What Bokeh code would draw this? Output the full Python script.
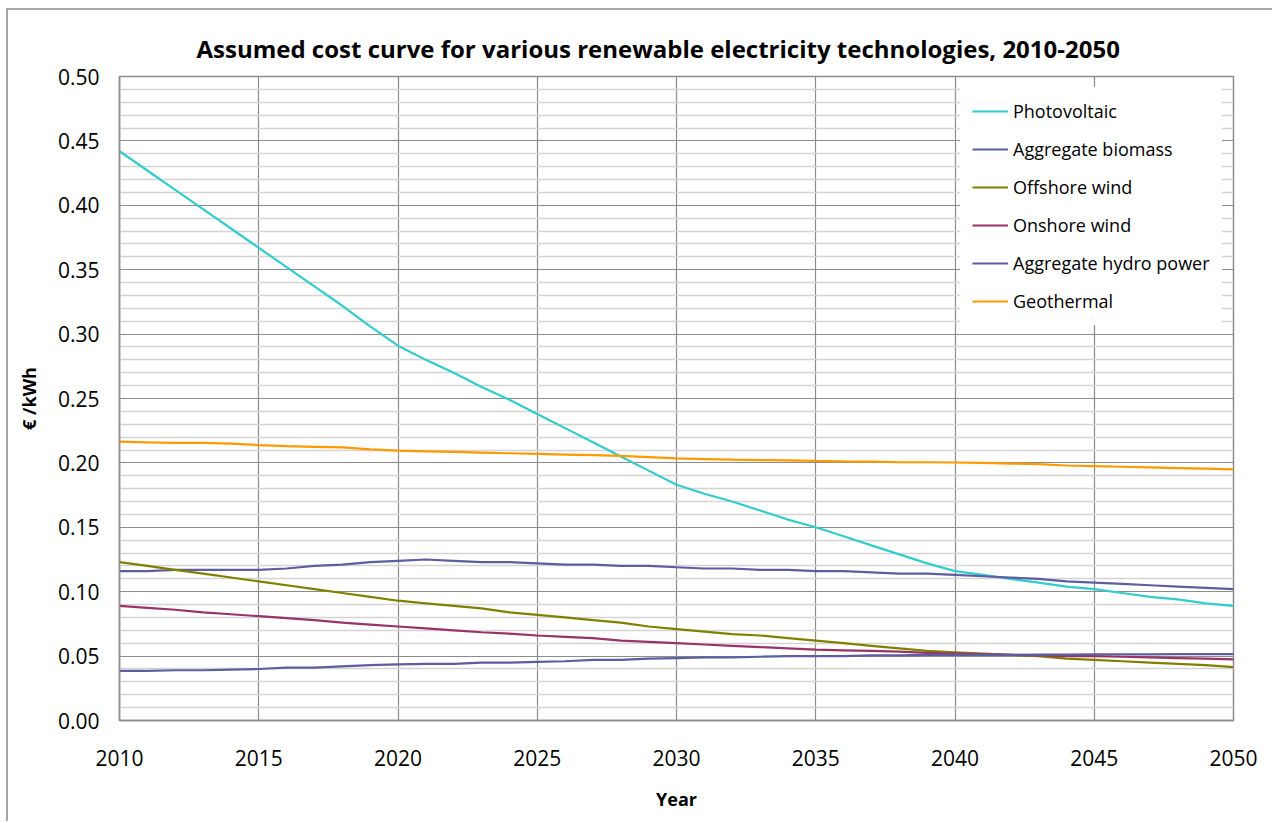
from bokeh.plotting import figure
from bokeh.models import FixedTicker, NumeralTickFormatter, Legend, LegendItem, Range1d
from bokeh.embed import file_html
from bokeh.resources import INLINE

years = list(range(2010, 2051))

photovoltaic = [0.442, 0.427, 0.412, 0.397, 0.382, 0.367, 0.352, 0.337, 0.322, 0.306,
                0.291, 0.280, 0.270, 0.259, 0.249, 0.238, 0.227, 0.216, 0.205, 0.194,
                0.183, 0.176, 0.170, 0.163, 0.156, 0.150, 0.143, 0.136, 0.129, 0.122,
                0.116, 0.113, 0.110, 0.107, 0.104, 0.102, 0.099, 0.096, 0.094, 0.091,
                0.089]
aggregate_biomass = [0.116, 0.116, 0.117, 0.117, 0.117, 0.117, 0.118, 0.120, 0.121, 0.123,
                     0.124, 0.125, 0.124, 0.123, 0.123, 0.122, 0.121, 0.121, 0.120, 0.120,
                     0.119, 0.118, 0.118, 0.117, 0.117, 0.116, 0.116, 0.115, 0.114, 0.114,
                     0.113, 0.112, 0.111, 0.110, 0.108, 0.107, 0.106, 0.105, 0.104, 0.103,
                     0.102]
offshore_wind = [0.123, 0.120, 0.117, 0.114, 0.111, 0.108, 0.105, 0.102, 0.099, 0.096,
                 0.093, 0.091, 0.089, 0.087, 0.084, 0.082, 0.080, 0.078, 0.076, 0.073,
                 0.071, 0.069, 0.067, 0.066, 0.064, 0.062, 0.060, 0.058, 0.056, 0.054,
                 0.053, 0.052, 0.051, 0.050, 0.048, 0.047, 0.046, 0.045, 0.044, 0.043,
                 0.0415]
onshore_wind = [0.089, 0.0875, 0.086, 0.084, 0.0825, 0.081, 0.0795, 0.078, 0.076, 0.0745,
                0.073, 0.0715, 0.070, 0.0685, 0.0675, 0.066, 0.065, 0.064, 0.062, 0.061,
                0.060, 0.059, 0.058, 0.057, 0.056, 0.055, 0.0545, 0.054, 0.0535, 0.0525,
                0.052, 0.0515, 0.051, 0.0505, 0.050, 0.050, 0.0495, 0.049, 0.0485, 0.048,
                0.0475]
aggregate_hydro = [0.0385, 0.0385, 0.039, 0.039, 0.0395, 0.040, 0.041, 0.041, 0.042, 0.043,
                   0.0435, 0.044, 0.044, 0.045, 0.045, 0.0455, 0.046, 0.047, 0.047, 0.048,
                   0.0485, 0.049, 0.049, 0.0495, 0.050, 0.050, 0.050, 0.0505, 0.0505, 0.051,
                   0.051, 0.051, 0.051, 0.0512, 0.0512, 0.0513, 0.0514, 0.0514, 0.0515, 0.0515,
                   0.0516]
geothermal = [0.2165, 0.216, 0.2155, 0.2155, 0.215, 0.2138, 0.213, 0.2125, 0.212, 0.2105,
              0.2095, 0.209, 0.2085, 0.208, 0.2075, 0.207, 0.2065, 0.206, 0.2055, 0.2045,
              0.2035, 0.203, 0.2025, 0.2022, 0.202, 0.2015, 0.2012, 0.201, 0.2005, 0.2005,
              0.2003, 0.200, 0.1995, 0.199, 0.198, 0.1975, 0.197, 0.1965, 0.196, 0.1955,
              0.195]

series_names = ["Photovoltaic", "Aggregate biomass", "Offshore wind", "Onshore wind",
                "Aggregate hydro power", "Geothermal"]
series_values = [photovoltaic, aggregate_biomass, offshore_wind, onshore_wind,
                 aggregate_hydro, geothermal]
series_colors = ["#33CCCC", "#5d5d9f", "#808000", "#993366", "#5d5d9f", "#FF9900"]

x_ticks = [2010, 2015, 2020, 2025, 2030, 2035, 2040, 2045, 2050]
y_ticks = [0.0, 0.05, 0.10, 0.15, 0.20, 0.25, 0.30, 0.35, 0.40, 0.45, 0.50]
y_minor = [i / 100 for i in range(51) if i % 5 != 0]

FONT = "Open Sans"

p = figure(width=1266, height=813, output_backend="svg", toolbar_location=None,
           x_range=Range1d(2010, 2050), y_range=Range1d(0, 0.5),
           min_border_left=111, min_border_right=41, min_border_top=66, min_border_bottom=103,
           title="Assumed cost curve for various renewable electricity technologies, 2010-2050")
p.styles = {"margin-left": "6px", "margin-top": "8px",
            "border-left": "2px solid #a6a6a6", "border-top": "2px solid #a6a6a6"}

p.title.text_font = FONT
p.title.text_font_size = "24px"
p.title.text_font_style = "bold"
p.title.text_color = "#000000"
p.title.align = "left"
p.title.offset = 77
p.title.standoff = 24

p.outline_line_color = "#8c8c8c"
p.outline_line_width = 1.5

p.xaxis.ticker = FixedTicker(ticks=x_ticks)
p.yaxis.ticker = FixedTicker(ticks=y_ticks, minor_ticks=y_minor)
p.yaxis.formatter = NumeralTickFormatter(format="0.00")
for ax in (p.xaxis, p.yaxis):
    ax.major_tick_in = 0
    ax.major_tick_out = 0
    ax.minor_tick_in = 0
    ax.minor_tick_out = 0
    ax.axis_line_color = "#8c8c8c"
    ax.axis_line_width = 1.5
    ax.major_label_text_font = FONT
    ax.major_label_text_font_size = "21px"
    ax.major_label_text_color = "#000000"
    ax.axis_label_text_font = FONT
    ax.axis_label_text_font_size = "18px"
    ax.axis_label_text_font_style = "bold"
    ax.axis_label_text_color = "#000000"

p.xaxis.axis_label = "Year"
p.yaxis.axis_label = "€ /kWh"
p.xaxis.major_label_standoff = 29
p.yaxis.major_label_standoff = 20
p.xaxis.axis_label_standoff = 18
p.yaxis.axis_label_standoff = 14

p.xgrid.ticker = FixedTicker(ticks=x_ticks)
p.xgrid.grid_line_color = "#8c8c8c"
p.xgrid.grid_line_width = 1.2
p.ygrid.ticker = FixedTicker(ticks=y_ticks, minor_ticks=y_minor)
p.ygrid.grid_line_color = "#8c8c8c"
p.ygrid.grid_line_width = 1.2
p.ygrid.minor_grid_line_color = "#d4d4d4"
p.ygrid.minor_grid_line_width = 1.5

items = []
for name, vals, col in zip(series_names, series_values, series_colors):
    r = p.line(years, vals, line_color=col, line_width=2.2)
    items.append(LegendItem(label=name, renderers=[r]))

legend = Legend(items=items, location=(841, 395))
legend.label_text_font = FONT
legend.label_text_font_size = "18px"
legend.label_text_color = "#000000"
legend.glyph_width = 36
legend.glyph_height = 20
legend.label_height = 24
legend.label_standoff = 5
legend.spacing = 14
legend.padding = 12
legend.margin = 0
legend.border_line_alpha = 0
legend.background_fill_color = "#ffffff"
legend.background_fill_alpha = 1.0
p.add_layout(legend)

open("out.html", "w").write(file_html(p, INLINE))
